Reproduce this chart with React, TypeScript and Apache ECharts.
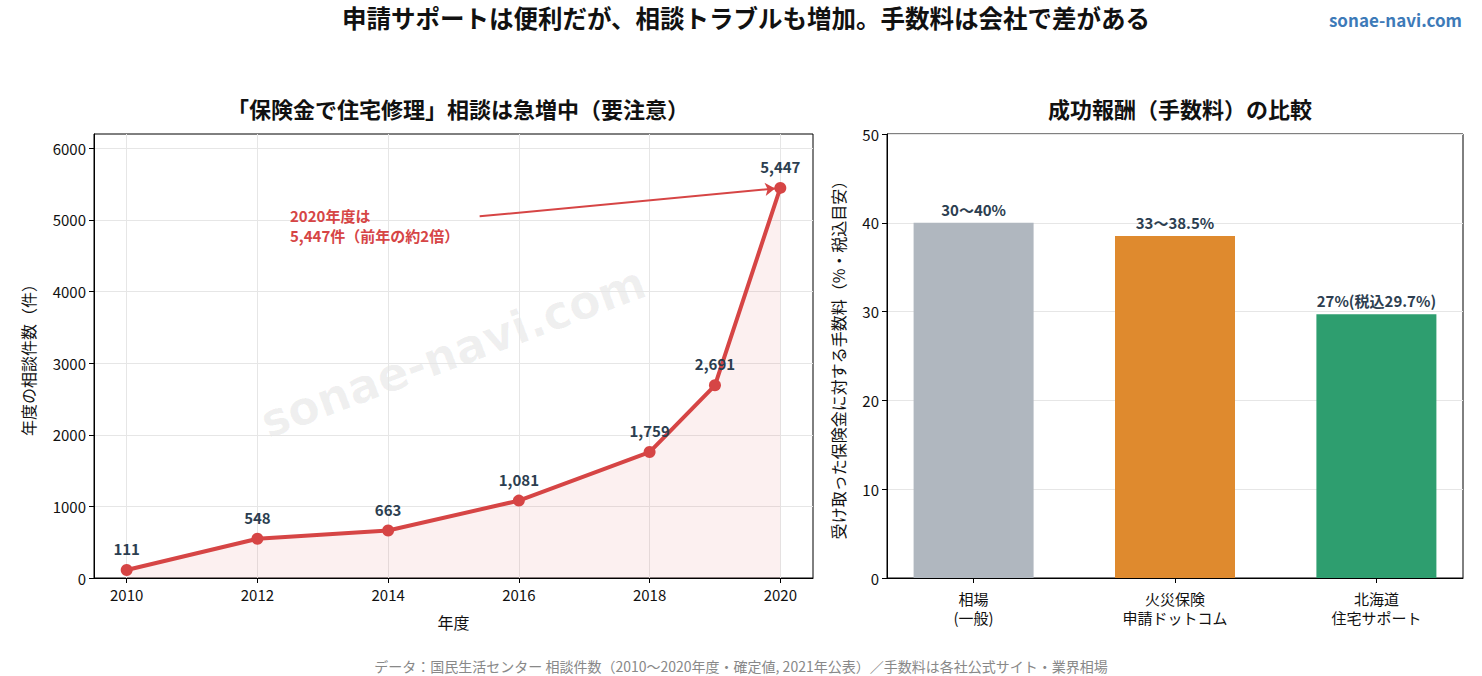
import React, { useEffect, useRef } from "react";
import * as echarts from "echarts";

const years = [2010, 2012, 2014, 2016, 2018, 2019, 2020];
const counts = [111, 548, 663, 1081, 1759, 2691, 5447];
const yearTicks = [2010, 2012, 2014, 2016, 2018, 2020];
const countTicks = [0, 1000, 2000, 3000, 4000, 5000, 6000];

const feeCategories = ["相場\n(一般)", "火災保険\n申請ドットコム", "北海道\n住宅サポート"];
const feeValues = [40, 38.5, 29.7];
const feeLabels = ["30〜40%", "33〜38.5%", "27%(税込29.7%)"];
const feeColors = ["#b0b7bf", "#df8a2e", "#2e9e6f"];

const FONT = "'Noto Sans CJK JP', 'Noto Sans', sans-serif";
const RED = "#d64545";
const NAVY = "#2c3e50";

export default function App() {
  const ref = useRef<HTMLDivElement>(null);
  useEffect(() => {
    const chart = echarts.init(ref.current!, null, { renderer: "svg" });
    const option: any = {
      animation: false,
      backgroundColor: "#fff",
      textStyle: { fontFamily: FONT },
      title: [
        {
          text: "申請サポートは便利だが、相談トラブルも増加。手数料は会社で差がある",
          left: 741, top: 0, textAlign: "center",
          textStyle: { fontSize: 24.5, fontWeight: "bold", color: "#111", fontFamily: FONT },
        },
        {
          text: "sonae-navi.com",
          right: 15, top: 6,
          textStyle: { fontSize: 17, fontWeight: "bold", color: "#3d7ab8", fontFamily: FONT },
        },
        {
          text: "「保険金で住宅修理」相談は急増中（要注意）",
          left: 453, top: 92, textAlign: "center",
          textStyle: { fontSize: 22, fontWeight: "bold", color: "#111", fontFamily: FONT },
        },
        {
          text: "成功報酬（手数料）の比較",
          left: 1175, top: 92, textAlign: "center",
          textStyle: { fontSize: 22, fontWeight: "bold", color: "#111", fontFamily: FONT },
        },
        {
          text: "データ：国民生活センター 相談件数（2010〜2020年度・確定値, 2021年公表）／手数料は各社公式サイト・業界相場",
          left: 741, top: 658, textAlign: "center", padding: 0,
          textStyle: { fontSize: 14, fontWeight: "normal", color: "#888", fontFamily: FONT, lineHeight: 16 },
        },
      ],
      grid: [
        { left: 94, top: 134, width: 719, height: 444, show: true, borderColor: "#000", borderWidth: 1, backgroundColor: "transparent" },
        { left: 887, top: 134, width: 576, height: 444, show: true, borderColor: "#000", borderWidth: 1, backgroundColor: "transparent" },
      ],
      xAxis: [
        {
          type: "value", gridIndex: 0, min: 2009.5, max: 2020.5,
          name: "年度", nameLocation: "middle", nameGap: 36,
          nameTextStyle: { fontSize: 16, color: "#111" },
          axisLine: { show: true, onZero: false, lineStyle: { color: "#000" } },
          axisTick: { show: true, length: 5, customValues: yearTicks, lineStyle: { color: "#000" } },
          axisLabel: { customValues: yearTicks, fontSize: 15, color: "#111", margin: 9, formatter: (v: number) => String(v) },
          splitLine: { show: true, lineStyle: { color: "#e6e6e6" } },
        },
        {
          type: "value", gridIndex: 1, min: -0.43, max: 2.43,
          axisLine: { show: true, onZero: false, lineStyle: { color: "#000" } },
          axisTick: { show: true, length: 5, customValues: [0, 1, 2], lineStyle: { color: "#000" } },
          axisLabel: {
            customValues: [0, 1, 2], fontSize: 15, color: "#111", margin: 11, lineHeight: 19,
            formatter: (v: number) => feeCategories[Math.round(v)] ?? "",
          },
          splitLine: { show: false },
        },
      ],
      yAxis: [
        {
          type: "value", gridIndex: 0, min: 0, max: 6200, interval: 1000,
          name: "年度の相談件数（件）", nameLocation: "middle", nameGap: 58,
          nameTextStyle: { fontSize: 16, color: "#111" },
          axisLine: { show: true, onZero: false, lineStyle: { color: "#000" } },
          axisTick: { show: true, length: 5, customValues: countTicks, lineStyle: { color: "#000" } },
          axisLabel: { customValues: countTicks, fontSize: 15, color: "#111", margin: 8, formatter: (v: number) => String(v) },
          splitLine: { show: true, lineStyle: { color: "#e6e6e6" } },
        },
        {
          type: "value", gridIndex: 1, min: 0, max: 50, interval: 10,
          name: "受け取った保険金に対する手数料（%・税込目安）", nameLocation: "middle", nameGap: 41,
          nameTextStyle: { fontSize: 16, color: "#111" },
          axisLine: { show: true, onZero: false, lineStyle: { color: "#000" } },
          axisTick: { show: true, length: 5, lineStyle: { color: "#000" } },
          axisLabel: { fontSize: 15, color: "#111", margin: 8 },
          splitLine: { show: true, lineStyle: { color: "#e6e6e6" } },
        },
      ],
      series: [
        {
          type: "line", xAxisIndex: 0, yAxisIndex: 0,
          data: years.map((y, i) => [y, counts[i]]),
          lineStyle: { color: RED, width: 4 },
          itemStyle: { color: RED },
          symbol: "circle", symbolSize: 12,
          areaStyle: { color: "rgba(214,69,69,0.11)" },
          label: {
            show: true, position: "top", distance: 8,
            fontSize: 15, fontWeight: "bold", color: NAVY,
            formatter: (p: any) => p.value[1].toLocaleString("en-US"),
          },
          markLine: {
            silent: true,
            symbol: ["none", "arrow"], symbolSize: 10,
            lineStyle: { color: RED, width: 2, type: "solid" },
            label: { show: false },
            data: [[{ coord: [2015.4, 5050] }, { coord: [2019.92, 5440] }]],
          },
          z: 3,
        },
        {
          type: "bar", xAxisIndex: 1, yAxisIndex: 1,
          barWidth: 120,
          data: feeValues.map((v, i) => ({ value: [i, v], itemStyle: { color: feeColors[i] } })),
          label: {
            show: true, position: "top", distance: 6,
            fontSize: 15, fontWeight: "bold", color: NAVY,
            formatter: (p: any) => feeLabels[p.dataIndex],
          },
        },
      ],
      graphic: [
        {
          type: "text", left: 290, top: 205, z: 10,
          style: {
            text: "2020年度は\n5,447件（前年の約2倍）",
            fill: RED, font: `bold 15px ${FONT}`, lineHeight: 20,
          },
        },
        {
          type: "text", x: 453, y: 352, rotation: 0.36, z: 0,
          style: {
            text: "sonae-navi.com",
            fill: "rgba(0,0,0,0.06)", font: `bold 46px 'DejaVu Sans', sans-serif`,
            align: "center", verticalAlign: "middle",
          },
        },
      ],
    };
    chart.setOption(option);
    return () => chart.dispose();
  }, []);
  return <div ref={ref} style={{ width: 1482, height: 676, position: "absolute", left: 0, top: 0 }} />;
}
